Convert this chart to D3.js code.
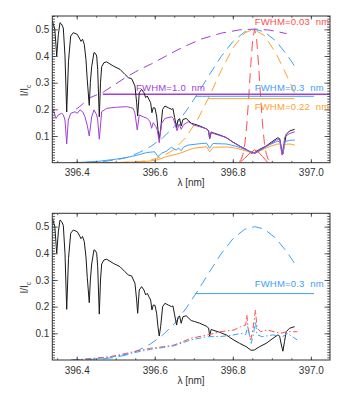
<!DOCTYPE html>
<html><head><meta charset="utf-8">
<script src="https://cdn.jsdelivr.net/npm/d3@7"></script>
<style>
html,body{margin:0;padding:0;background:#fff;}
text{font-family:"Liberation Sans",Arial,sans-serif;}
</style></head>
<body><svg id="c" width="346" height="393"></svg>
<script>
// ---------- DATA ----------
const xDomain = [396.3375, 397.049];
const yDomain = [0, 0.55];
const xMajorTicks = [396.4, 396.6, 396.8, 397.0];
const yMajorTicks = [0.1, 0.2, 0.3, 0.4, 0.5];

// observed spectrum [lambda nm, I/Ic]
const spectrum = [
[396.3380,0.53],[396.3440,0.50],[396.3488,0.40],[396.3530,0.48],[396.3572,0.525],[396.3610,0.52],
[396.3657,0.505],[396.3700,0.40],[396.3744,0.19],[396.3790,0.38],[396.3846,0.475],[396.3913,0.4875],
[396.4015,0.481],[396.4084,0.4625],[396.4110,0.455],[396.4150,0.463],[396.4194,0.444],[396.4238,0.386],
[396.4271,0.31],[396.4322,0.215],[396.4350,0.30],[396.4384,0.36],[396.4443,0.413],[396.4480,0.41],
[396.4512,0.40],[396.4538,0.35],[396.4579,0.172],[396.4610,0.30],[396.4640,0.36],[396.4699,0.375],
[396.4768,0.378],[396.4937,0.3625],[396.5109,0.35],[396.5237,0.331],[396.5321,0.319],[396.5408,0.315],
[396.5493,0.2875],[396.5536,0.225],[396.5562,0.175],[396.5603,0.2625],[396.5664,0.275],[396.5723,0.2625],
[396.5767,0.244],[396.5808,0.25],[396.5851,0.237],[396.5895,0.225],[396.5928,0.1875],[396.5961,0.206],
[396.6005,0.205],[396.6048,0.175],[396.6082,0.125],[396.6115,0.09],[396.6151,0.125],[396.6202,0.20],
[396.6261,0.2125],[396.6346,0.206],[396.6433,0.20],[396.6466,0.203],[396.6509,0.169],[396.6561,0.131],
[396.6594,0.16],[396.6637,0.165],[396.6678,0.1375],[396.6722,0.162],[396.6806,0.166],[396.6876,0.156],
[396.6935,0.148],[396.7022,0.144],[396.7150,0.138],[396.7319,0.127],[396.7380,0.12],[396.7406,0.09],
[396.7447,0.115],[396.7490,0.112],[396.7662,0.104],[396.7831,0.094],[396.8002,0.077],[396.8174,0.0625],
[396.8343,0.05],[396.8471,0.036],[396.8558,0.038],[396.8686,0.05],[396.8855,0.0625],[396.9027,0.081],
[396.9155,0.094],[396.9198,0.09],[396.9239,0.06],[396.9283,0.033],[396.9326,0.07],[396.9367,0.106],
[396.9454,0.119],[396.9582,0.125]
];

// filter profiles (dashed), top panel
const filterPurple = [
[396.398,0.200],[396.408,0.211],[396.434,0.2437],[396.468,0.2647],[396.494,0.2897],[396.528,0.322],
[396.562,0.350],[396.592,0.371],[396.647,0.414],[396.672,0.433],[396.720,0.464],[396.771,0.486],
[396.818,0.498],[396.857,0.501],[396.895,0.497],[396.938,0.484]
];
const filterBlue = [
[396.385,0.0005],[396.41,0.001],[396.44,0.0024],[396.47,0.005],[396.50,0.010],[396.53,0.020],
[396.56,0.038],[396.59,0.061],[396.62,0.093],[396.65,0.135],[396.68,0.193],[396.71,0.259],
[396.74,0.33],[396.77,0.398],[396.80,0.454],[396.83,0.49],[396.856,0.5],[396.88,0.491],
[396.91,0.457],[396.94,0.402],[396.962,0.354]
];
const filterOrange = [
[396.385,0.0],[396.50,0.0004],[396.56,0.004],[396.59,0.010],[396.62,0.024],[396.65,0.050],
[396.68,0.095],[396.71,0.162],[396.74,0.25],[396.77,0.345],[396.80,0.43],[396.83,0.486],
[396.852,0.5],[396.88,0.478],[396.91,0.412],[396.94,0.321],[396.962,0.25]
];
const filterRed = [
[396.816,0.004],[396.821,0.011],[396.826,0.031],[396.831,0.073],[396.836,0.145],[396.841,0.25],
[396.846,0.367],[396.851,0.463],[396.856,0.5],[396.861,0.463],[396.866,0.367],[396.871,0.25],
[396.876,0.145],[396.881,0.073],[396.886,0.031],[396.891,0.011],[396.896,0.004]
];

// filtered spectra (solid), top panel
const filteredPurple = [
[396.3375,0.19],[396.3401,0.198],[396.3470,0.166],[396.3529,0.179],[396.3616,0.185],[396.3657,0.18],
[396.3700,0.16],[396.3744,0.07],[396.3785,0.16],[396.3846,0.185],[396.3956,0.191],[396.4015,0.185],
[396.4084,0.198],[396.4153,0.191],[396.4212,0.172],[396.4271,0.14],[396.4322,0.10],[396.4384,0.172],
[396.4443,0.198],[396.4512,0.179],[396.4538,0.16],[396.4579,0.088],[396.4640,0.191],[396.4768,0.204],
[396.5024,0.208],[396.5280,0.21],[396.5449,0.204],[396.5493,0.185],[396.5552,0.1225],[396.5603,0.179],
[396.5705,0.172],[396.5808,0.166],[396.5877,0.154],[396.5920,0.129],[396.5961,0.15],[396.6031,0.135],
[396.6069,0.12],[396.6115,0.075],[396.6177,0.148],[396.6261,0.166],[396.6433,0.172],[396.6474,0.166],
[396.6517,0.148],[396.6569,0.12],[396.6627,0.145],[396.6678,0.125],[396.6730,0.141],[396.6858,0.154],
[396.6986,0.142],[396.7329,0.127],[396.7380,0.118],[396.7406,0.09],[396.7447,0.113],[396.7498,0.11],
[396.7841,0.094],[396.8010,0.077],[396.8182,0.062],[396.8438,0.041],[396.8566,0.035],[396.8694,0.0475],
[396.8950,0.07],[396.9122,0.085],[396.9206,0.089],[396.9265,0.03],[396.9334,0.0975],[396.9462,0.11],
[396.9590,0.116]
];
const filteredBlue = [
[396.390,0.0],[396.42,0.002],[396.46,0.006],[396.50,0.013],[396.53,0.020],[396.56,0.030],
[396.5792,0.038],[396.5996,0.041],[396.6082,0.0225],[396.6170,0.035],[396.6298,0.043],[396.6426,0.058],
[396.6554,0.047],[396.6605,0.055],[396.6680,0.045],[396.6734,0.058],[396.6852,0.066],[396.7200,0.072],
[396.7329,0.073],[396.7406,0.054],[396.7490,0.072],[396.7841,0.07],[396.8100,0.061],[396.8438,0.043],
[396.8566,0.036],[396.8694,0.046],[396.8950,0.068],[396.9122,0.079],[396.9206,0.08],[396.9265,0.03],
[396.9334,0.079],[396.9462,0.084],[396.9590,0.085]
];
const filteredOrange = [
[396.400,0.0],[396.50,0.0],[396.55,0.003],[396.5877,0.006],[396.6048,0.01],[396.6298,0.0225],
[396.6637,0.035],[396.6986,0.054],[396.7329,0.06],[396.7406,0.041],[396.7498,0.058],[396.7841,0.059],
[396.8100,0.054],[396.8438,0.04],[396.8566,0.035],[396.8694,0.044],[396.8950,0.061],[396.9122,0.069],
[396.9206,0.071],[396.9265,0.028],[396.9334,0.069],[396.9462,0.07],[396.9590,0.066]
];
const filteredRed = [
[396.8174,0.0],[396.8302,0.016],[396.8430,0.035],[396.8558,0.048],[396.8642,0.041],[396.8770,0.022],
[396.8898,0.0]
];

// FWHM markers [lambdaStart, lambdaEnd, level]
const fwhmPurple = [396.467, 397.049, 0.2565];
const fwhmBlue = [396.704, 397.008, 0.249];
const fwhmOrange = [396.737, 396.958, 0.240];

// bottom panel: dash-dot curves
const bottomRed = [
[396.39,0.0],[396.44,0.006],[396.486,0.0125],[396.546,0.031],[396.589,0.044],[396.623,0.05],
[396.649,0.056],[396.692,0.081],[396.735,0.094],[396.769,0.106],[396.803,0.1125],[396.820,0.125],
[396.833,0.131],[396.836,0.169],[396.839,0.12],[396.846,0.075],[396.852,0.12],[396.858,0.1875],
[396.862,0.12],[396.871,0.106],[396.888,0.1125],[396.922,0.10],[396.939,0.106],[396.965,0.106]
];
const bottomBlue = [
[396.39,0.0],[396.44,0.004],[396.486,0.01],[396.546,0.027],[396.589,0.040],[396.623,0.047],
[396.649,0.053],[396.692,0.075],[396.735,0.0875],[396.769,0.088],[396.803,0.094],[396.820,0.1],
[396.833,0.095],[396.838,0.125],[396.843,0.09],[396.847,0.0625],[396.852,0.09],[396.858,0.144],
[396.862,0.095],[396.875,0.0875],[396.902,0.094],[396.928,0.088],[396.940,0.1],[396.965,0.075]
];

const labelsTop = [
  {text:"FWHM=0.03  nm", color:"#ff4d4d", lam:396.856, v:0.518},
  {text:"FWHM=1.0  nm", color:"#a040d8", lam:396.552, v:0.267},
  {text:"FWHM=0.3  nm", color:"#3ea0f5", lam:396.856, v:0.267},
  {text:"FWHM=0.22  nm", color:"#ffa030", lam:396.856, v:0.197}
];
const labelsBottom = [
  {text:"FWHM=0.3  nm", color:"#3ea0f5", lam:396.856, v:0.272}
];

// ---------- DRAW ----------
const svg = d3.select("#c");
const C = {black:"#1a1a1a", purple:"#a040d8", blue:"#3ea0f5", orange:"#ffa030", red:"#ff4d4d", axis:"#333"};

function panel(top, bottom, draw){
  const x = d3.scaleLinear().domain(xDomain).range([52.3, 330]);
  const y = d3.scaleLinear().domain(yDomain).range([bottom, top]);
  const g = svg.append("g");
  const clipId = "clip" + Math.round(top);
  svg.append("clipPath").attr("id", clipId).append("rect")
    .attr("x", 52.3).attr("y", top).attr("width", 330-52.3).attr("height", bottom-top);
  const pg = g.append("g").attr("clip-path", `url(#${clipId})`);
  const line = d3.line().x(d=>x(d[0])).y(d=>y(d[1]));
  draw(pg, x, y, line);

  const xMinor = d3.range(396.35, 397.049, 0.05);
  const yMinor = d3.range(0.01, 0.5501, 0.01);
  function ax(gen, tr, vals, size, fmt, pad){
    const a = g.append("g").attr("transform", tr)
      .call(gen.tickValues(vals).tickSize(size).tickSizeOuter(0).tickPadding(pad||3).tickFormat(fmt));
    a.select(".domain").remove();
    a.selectAll("line").attr("stroke", C.axis).attr("stroke-width", 0.8);
    a.selectAll("text").attr("fill", "#333").attr("font-size", 10).attr("font-family",'"Liberation Sans",Arial,sans-serif');
    return a;
  }
  ax(d3.axisBottom(x), `translate(0,${bottom})`, xMajorTicks, -3.5, d3.format(".1f"), 6.5);
  ax(d3.axisBottom(x), `translate(0,${bottom})`, xMinor, -1.8, "");
  ax(d3.axisTop(x), `translate(0,${top})`, xMajorTicks, -3.5, "");
  ax(d3.axisTop(x), `translate(0,${top})`, xMinor, -1.8, "");
  ax(d3.axisLeft(y), `translate(52.3,0)`, yMajorTicks, -5.5, d3.format(".1f"), 3);
  ax(d3.axisLeft(y), `translate(52.3,0)`, yMinor, -2.7, "");
  ax(d3.axisRight(y), `translate(330,0)`, yMajorTicks, -5.5, "");
  ax(d3.axisRight(y), `translate(330,0)`, yMinor, -2.7, "");
  g.append("rect").attr("x",52.3).attr("y",top).attr("width",330-52.3).attr("height",bottom-top)
    .attr("fill","none").attr("stroke",C.axis).attr("stroke-width",1);

  g.append("text").attr("x", 191).attr("y", bottom+23.5).attr("text-anchor","middle")
    .attr("font-size",10).attr("fill","#333").text("λ [nm]");
  const yl = g.append("text").attr("transform", `translate(28,${(top+bottom)/2+1}) rotate(-90)`)
    .attr("text-anchor","middle").attr("font-size",10).attr("fill","#333");
  yl.append("tspan").text("I/I");
  yl.append("tspan").attr("font-size",7).attr("dy",2.5).text("c");
  return {x, y, g};
}

function addLabels(g, x, y, labels){
  labels.forEach(l => {
    g.append("text").attr("x", x(l.lam)).attr("y", y(l.v))
      .attr("font-size", 9.5).attr("letter-spacing", 0.2).attr("fill", l.color)
      .style("white-space","pre").text(l.text);
  });
}
function hline(pg, x, y, f, color, w){
  pg.append("line").attr("x1", x(f[0])).attr("x2", x(f[1])).attr("y1", y(f[2])).attr("y2", y(f[2]))
    .attr("stroke", color).attr("stroke-width", w);
}
function path(pg, line, data, color, dash, w){
  pg.append("path").datum(data).attr("d", line).attr("fill","none")
    .attr("stroke", color).attr("stroke-width", w||1).attr("stroke-dasharray", dash||null);
}

// top panel
const P1 = panel(16, 162.7, (pg, x, y, line) => {
  path(pg, line, filterPurple, C.purple, "10,6");
  path(pg, line, filterBlue, C.blue, "10,6");
  path(pg, line, filterOrange, C.orange, "10,6");
  path(pg, line, filterRed, C.red, "10,6");
  hline(pg, x, y, fwhmPurple, C.purple, 1.5);
  hline(pg, x, y, fwhmBlue, C.blue, 1);
  hline(pg, x, y, fwhmOrange, C.orange, 1);
  path(pg, line, spectrum, C.black);
  path(pg, line, filteredOrange, C.orange);
  path(pg, line, filteredBlue, C.blue);
  path(pg, line, filteredRed, C.red);
  path(pg, line, filteredPurple, C.purple);
});
addLabels(P1.g, P1.x, P1.y, labelsTop);

// bottom panel
const P2 = panel(213.3, 360, (pg, x, y, line) => {
  path(pg, line, filterBlue, C.blue, "10,6");
  hline(pg, x, y, fwhmBlue, C.blue, 1);
  path(pg, line, spectrum, C.black);
  path(pg, line, bottomRed, C.red, "6,2.5,1.5,2.5");
  path(pg, line, bottomBlue, C.blue, "6,2.5,1.5,2.5");
});
addLabels(P2.g, P2.x, P2.y, labelsBottom);
</script></body></html>
